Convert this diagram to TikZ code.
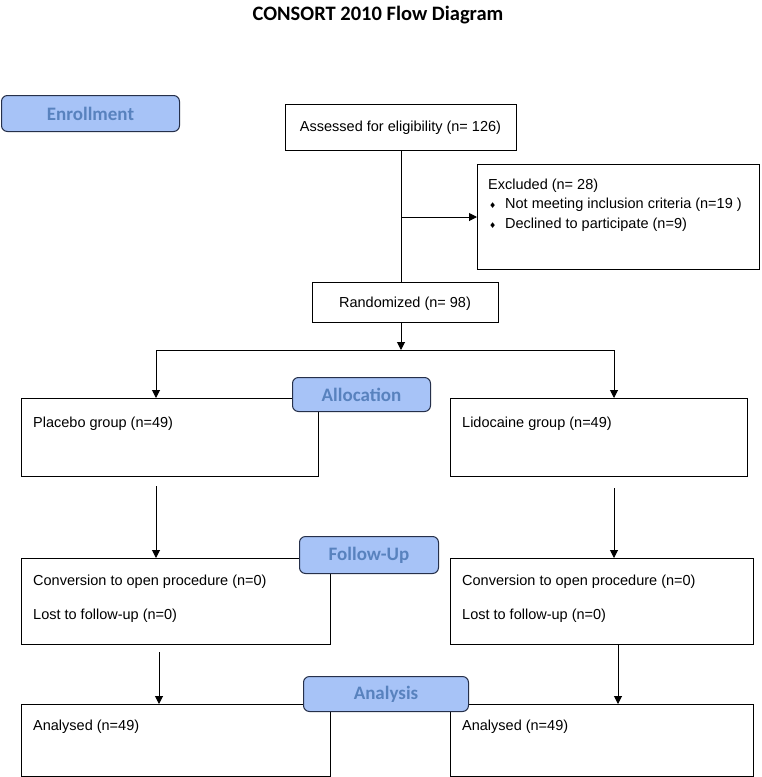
\documentclass[tikz,border=0pt]{standalone}
\usepackage{fontspec}
\setmainfont{Liberation Sans}
\newfontfamily\calib{Carlito}
\newfontfamily\dejavu{DejaVu Sans}
\usetikzlibrary{arrows.meta}
\definecolor{lblfill}{HTML}{A7C3F7}
\definecolor{lbltext}{HTML}{5882BE}
\definecolor{lbldraw}{HTML}{26304A}
\begin{document}
\begin{tikzpicture}[x=1pt,y=-1pt,
  box/.style={draw, line width=1pt, rectangle, anchor=north west, inner sep=0pt},
  txt/.style={anchor=base west, inner sep=0pt, font=\fontsize{14.5}{17}\selectfont},
  ctxt/.style={anchor=base, inner sep=0pt, font=\fontsize{14.5}{17}\selectfont},
  lbl/.style={draw=lbldraw, fill=lblfill, rounded corners=6pt, line width=1pt, text=lbltext,
    font=\calib\bfseries\fontsize{19}{22}\selectfont, anchor=north west, inner sep=0pt},
  arr/.style={-{Triangle[length=8pt,width=8pt]}, line width=1pt},
  ln/.style={line width=1pt}]
\useasboundingbox (0,0) rectangle (761,777);
\fill[white] (0,0) rectangle (761,777);

% title
\node[anchor=base, inner sep=0pt, font=\calib\bfseries\fontsize{20.5}{24}\selectfont] (title) at (378,20) {CONSORT 2010 Flow Diagram};

% boxes
\node[box, minimum width=231pt, minimum height=46pt] (ass) at (285,104) {};
\node[ctxt] (asst) at (400.5,131) {Assessed for eligibility (n= 126)};
\node[box, minimum width=282pt, minimum height=105pt] (exc) at (477,164) {};
\node[txt] (exc1) at (488,189) {Excluded (n= 28)};
\node[txt] (exc2) at (488,208) {\makebox[17pt][l]{\hspace{1pt}\dejavu\fontsize{8}{8}\selectfont ♦}Not meeting inclusion criteria (n=19 )};
\node[txt] (exc3) at (488,228) {\makebox[17pt][l]{\hspace{1pt}\dejavu\fontsize{8}{8}\selectfont ♦}Declined to participate (n=9)};
\node[box, minimum width=186pt, minimum height=40pt] (ran) at (312,282) {};
\node[ctxt] (rant) at (405,307) {Randomized (n= 98)};

\node[box, minimum width=297pt, minimum height=78pt] (pl) at (21,398) {};
\node[txt] (plt) at (33,427) {Placebo group (n=49)};
\node[box, minimum width=297pt, minimum height=78pt] (li) at (450,398) {};
\node[txt] (lit) at (462,427) {Lidocaine group (n=49)};

\node[box, minimum width=309pt, minimum height=86pt] (fl) at (21,558) {};
\node[txt] (fl1) at (33,585) {Conversion to open procedure (n=0)};
\node[txt] (fl2) at (33,619) {Lost to follow-up (n=0)};
\node[box, minimum width=303pt, minimum height=86pt] (fr) at (450,558) {};
\node[txt] (fr1) at (462,585) {Conversion to open procedure (n=0)};
\node[txt] (fr2) at (462,619) {Lost to follow-up (n=0)};

\node[box, minimum width=309pt, minimum height=72pt] (al) at (21,704) {};
\node[txt] (alt) at (33,730) {Analysed (n=49)};
\node[box, minimum width=303pt, minimum height=72pt] (ar) at (450,704) {};
\node[txt] (art) at (462,730) {Analysed (n=49)};

% connectors
\coordinate (j1) at (401,217);
\coordinate (split) at (401,350);
\coordinate (cL) at (156,350);
\coordinate (cR) at (614,350);
\coordinate (p1) at (156,486);
\coordinate (l1) at (614,488);
\coordinate (f1) at (159,652);

\draw[ln] (ass.south -| j1) -- (j1 |- ran.north);
\draw[arr] (j1) -- (exc.west |- j1);
\draw[arr] (j1 |- ran.south) -- (split);
\draw[ln] (cL) -- (cR);
\draw[arr] (cL) -- (pl.north -| cL);
\draw[arr] (cR) -- (li.north -| cR);
\draw[arr] (p1) -- (fl.north -| p1);
\draw[arr] (l1) -- (fr.north -| l1);
\draw[arr] (f1) -- (al.north -| f1);
\draw[arr] (fr.south -| 618,0) -- (ar.north -| 618,0);

% stage labels
\node[lbl, minimum width=178pt, minimum height=36pt] (enr) at (1,95) {Enrollment};
\node[lbl, minimum width=138pt, minimum height=34pt] (alloc) at (292,377) {Allocation};
\node[lbl, minimum width=139pt, minimum height=37pt] (foll) at (299,536) {Follow-Up};
\node[lbl, minimum width=165pt, minimum height=35pt] (anal) at (303,676) {Analysis};
\end{tikzpicture}
\end{document}
